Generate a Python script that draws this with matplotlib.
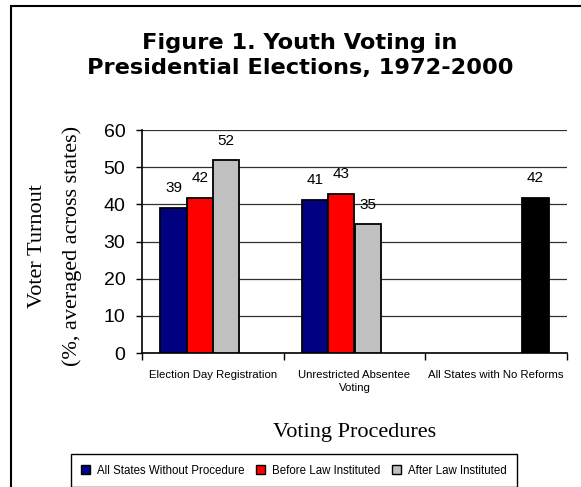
import matplotlib.pyplot as plt
import numpy as np
from matplotlib.patches import Rectangle, Patch

# data
categories = ['Election Day Registration', 'Unrestricted Absentee\nVoting',
              'All States with No Reforms']
without_procedure = [39.1, 41.2, np.nan]
before_law = [41.8, 42.9, np.nan]
after_law = [51.9, 34.7, np.nan]
no_reforms = [np.nan, np.nan, 41.8]

series_names = ['All States Without Procedure', 'Before Law Instituted',
                'After Law Instituted']
colors = ['#000080', '#FF0000', '#C0C0C0', '#000000']

W, H = 581, 487
fig = plt.figure(figsize=(W / 100, H / 100), dpi=100)
ax = fig.add_axes([142 / W, 1 - 353 / H, (567 - 142) / W, (353 - 130) / H])

x = np.arange(len(categories))
width = 0.185
all_series = [without_procedure, before_law, after_law, no_reforms]
for i, (vals, col) in enumerate(zip(all_series, colors)):
    pos = x + (i - 1.5) * width
    bars = ax.bar(pos, vals, width, color=col, edgecolor='black', linewidth=1.3,
                  zorder=3)
    for b, v in zip(bars, vals):
        if np.isnan(v):
            continue
        ax.annotate(f'{v:.0f}', (b.get_x() + b.get_width() / 2, v),
                    xytext=(0, 14), textcoords='offset points',
                    ha='center', va='center', fontsize=11,
                    family='Liberation Sans', zorder=4)

ax.set_xlim(-0.5, len(categories) - 0.5)
ax.set_ylim(0, 60)
ax.set_yticks(range(0, 61, 10))
ax.yaxis.grid(True, color='#303030', linewidth=0.9, zorder=0)
ax.set_axisbelow(True)

for s in ['top', 'right']:
    ax.spines[s].set_visible(False)
for s in ['left', 'bottom']:
    ax.spines[s].set_linewidth(1.2)

ax.set_xticks(np.arange(-0.5, len(categories), 1))
ax.set_xticklabels([])
ax.set_xticks(x, minor=True)
ax.set_xticklabels(categories, minor=True, fontsize=8.2, family='Liberation Sans',
                   linespacing=1.4)
ax.tick_params(axis='x', which='major', length=5, width=1, direction='out')
ax.tick_params(axis='x', which='minor', length=0, pad=12)
ax.tick_params(axis='y', length=4.5, width=1, pad=7.5)
for lab in ax.get_yticklabels():
    lab.set_family('Liberation Sans')
    lab.set_fontsize(14)

ax.set_xlabel('Voting Procedures', family='Liberation Serif', fontsize=16,
              labelpad=22)

fig.text(38 / W, 1 - 246 / H, 'Voter Turnout', rotation=90, ha='center',
         va='center', family='Liberation Serif', fontsize=16)
fig.text(72 / W, 1 - 246 / H, '(%, averaged across states)', rotation=90,
         ha='center', va='center', family='Liberation Serif', fontsize=16)

fig.text(300 / W, 1 - 55.5 / H,
         'Figure 1. Youth Voting in\nPresidential Elections, 1972-2000',
         ha='center', va='center', fontsize=16.2, fontweight='bold',
         family='DejaVu Sans', linespacing=1.28)

handles = [Patch(facecolor=c, edgecolor='black', linewidth=1) for c in colors[:3]]
leg = fig.legend(handles, series_names, loc='center', ncol=3,
                 bbox_to_anchor=(294 / W, 1 - 470.5 / H),
                 prop={'family': 'Liberation Sans', 'size': 8.3},
                 fancybox=False, edgecolor='black', framealpha=1,
                 handlelength=0.8, handleheight=0.8, handletextpad=0.6,
                 columnspacing=1.0, borderpad=0.9, borderaxespad=0)
leg.get_frame().set_linewidth(1)

# outer chart border (top and left visible)
fig.add_artist(Rectangle((11 / W, -0.1), 1.0, 1 - 6 / H + 0.1, fill=False,
                         edgecolor='black', linewidth=1.5,
                         transform=fig.transFigure))

fig.savefig('out.png', dpi=100)
